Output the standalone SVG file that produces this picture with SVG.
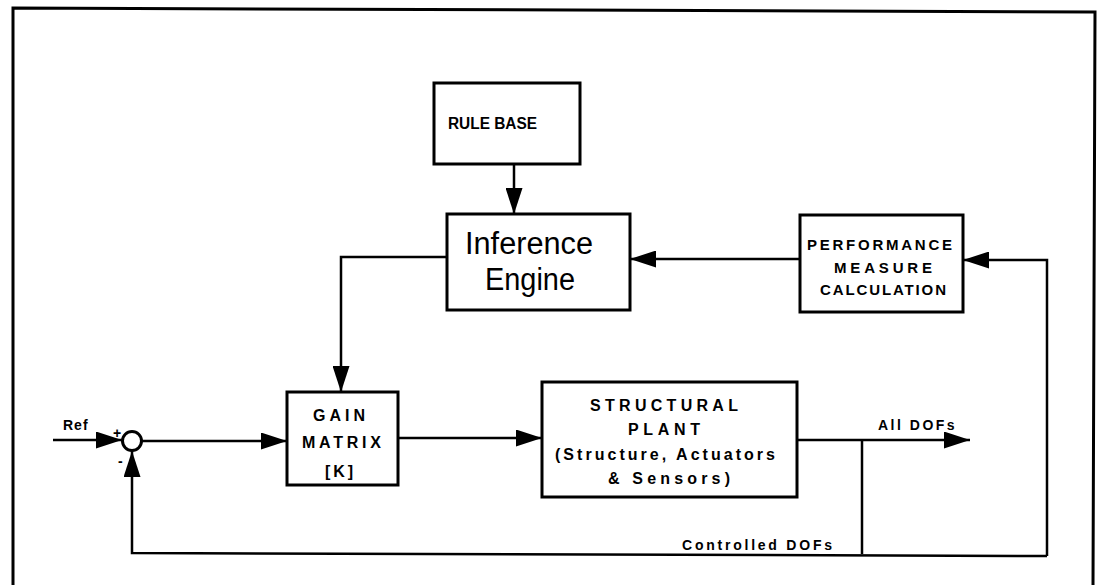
<svg xmlns="http://www.w3.org/2000/svg" width="1099" height="585" viewBox="0 0 1099 585">
<defs>
<style>
.box{fill:#fff;stroke:#000;stroke-width:3}
.ln{fill:none;stroke:#000;stroke-width:2.5}
.lbl{font-family:"Liberation Sans",Arial,sans-serif;font-weight:bold;fill:#000}
.big{font-family:"Liberation Sans",Arial,sans-serif;font-size:31px;fill:#000}
</style>
<marker id="ah" markerWidth="27" markerHeight="17" refX="26" refY="8.5" orient="auto" markerUnits="userSpaceOnUse">
<path d="M0,0 L26,8.5 L0,17 z" fill="#000"/>
</marker>
</defs>
<rect width="1099" height="585" fill="#fff"/>
<polyline points="13,585 13,8 1095,12 1093,585" fill="none" stroke="#000" stroke-width="3"/>

<g id="connectors">
<line class="ln" x1="514" y1="164" x2="514" y2="214" marker-end="url(#ah)"/>
<line class="ln" x1="800" y1="259" x2="630" y2="259" marker-end="url(#ah)"/>
<polyline class="ln" points="1047,556 1047,260 963,260" marker-end="url(#ah)"/>
<polyline class="ln" points="447,257 341,257 341,392" marker-end="url(#ah)"/>
<line class="ln" x1="53" y1="440" x2="122" y2="440" marker-end="url(#ah)"/>
<line class="ln" x1="142" y1="441" x2="287" y2="441" marker-end="url(#ah)"/>
<line class="ln" x1="398" y1="438" x2="542" y2="438" marker-end="url(#ah)"/>
<line class="ln" x1="797" y1="440" x2="970" y2="440" marker-end="url(#ah)"/>
<line class="ln" x1="862" y1="440" x2="862" y2="554"/>
<polyline class="ln" points="1047,556 132,553 132,451" stroke-width="3" marker-end="url(#ah)"/>
<text class="lbl" x="63" y="430" font-size="14" letter-spacing="1">Ref</text>
<text class="lbl" x="113" y="438" font-size="14">+</text>
<text class="lbl" x="118" y="466" font-size="14">-</text>
<text class="lbl" x="878" y="430" font-size="14" letter-spacing="2.5">All DOFs</text>
<text class="lbl" x="682" y="550" font-size="14" textLength="150" lengthAdjust="spacing">Controlled DOFs</text>
</g>

<g id="sum">
<circle cx="132" cy="441" r="9.5" fill="#fff" stroke="#000" stroke-width="3"/>
</g>

<g id="rule-base">
<rect class="box" x="434" y="83" width="146" height="81"/>
<text class="lbl" x="448" y="129" font-size="16" textLength="89" lengthAdjust="spacingAndGlyphs">RULE BASE</text>
</g>

<g id="inference-engine">
<rect class="box" x="447" y="214" width="183" height="96"/>
<text class="big" x="465" y="254" textLength="128" lengthAdjust="spacingAndGlyphs">Inference</text>
<text class="big" x="485" y="290" textLength="90" lengthAdjust="spacingAndGlyphs">Engine</text>
</g>

<g id="performance">
<rect class="box" x="800" y="215" width="163" height="97"/>
<g class="lbl" font-size="15">
<text x="807" y="250" textLength="145" lengthAdjust="spacing">PERFORMANCE</text>
<text x="834" y="273" textLength="98" lengthAdjust="spacing">MEASURE</text>
<text x="820" y="295" textLength="126" lengthAdjust="spacing">CALCULATION</text>
</g>
</g>

<g id="gain-matrix">
<rect class="box" x="287" y="392" width="111" height="93"/>
<g class="lbl" font-size="16">
<text x="313" y="421" textLength="52" lengthAdjust="spacing">GAIN</text>
<text x="302" y="448" textLength="79" lengthAdjust="spacing">MATRIX</text>
<text x="325" y="477" textLength="28" lengthAdjust="spacing">[K]</text>
</g>
</g>

<g id="structural-plant">
<rect class="box" x="542" y="382" width="255" height="115"/>
<g class="lbl" font-size="16">
<text x="590" y="411" textLength="148" lengthAdjust="spacing">STRUCTURAL</text>
<text x="628" y="435" textLength="72" lengthAdjust="spacing">PLANT</text>
<text x="555" y="460" textLength="220" lengthAdjust="spacing">(Structure, Actuators</text>
<text x="608" y="484" textLength="122" lengthAdjust="spacing">&amp; Sensors)</text>
</g>
</g>
</svg>
